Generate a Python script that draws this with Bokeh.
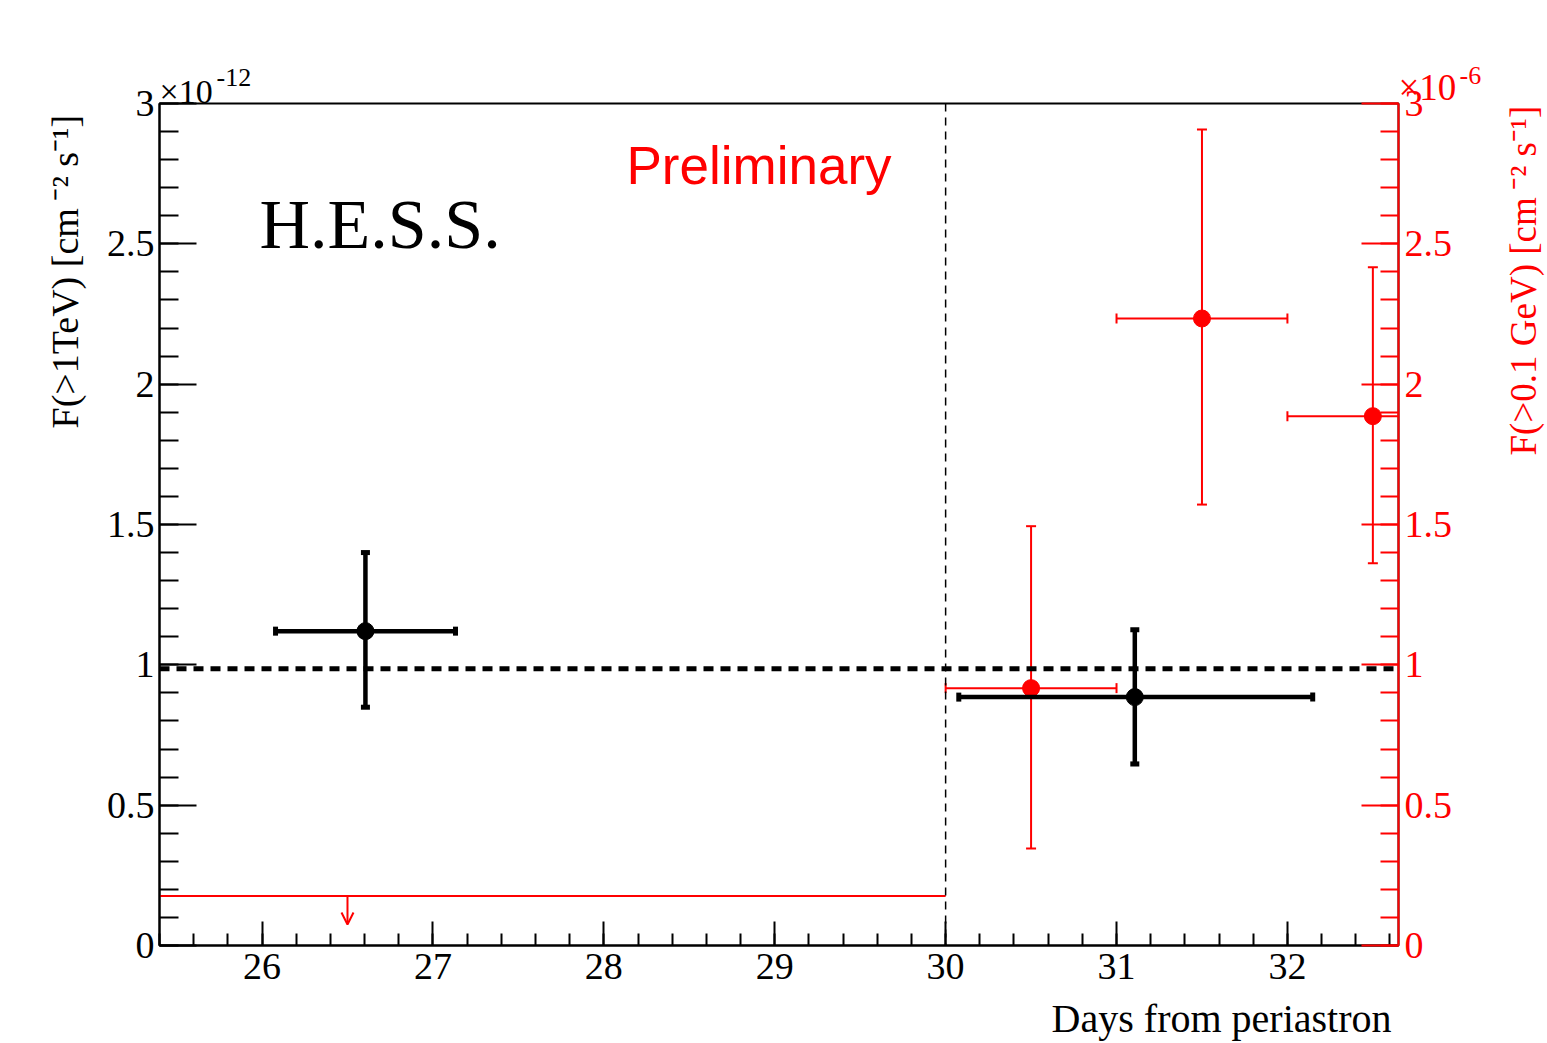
import math

from bokeh.embed import file_html
from bokeh.models import (Arrow, CustomJSTickFormatter, Label, LinearAxis,
                          OpenHead, Range1d, SingleIntervalTicker, Span)
from bokeh.plotting import figure
from bokeh.resources import INLINE

# ---- data -----------------------------------------------------------------
# H.E.S.S. integral flux above 1 TeV (units of 1e-12 cm^-2 s^-1)
hess_day = [26.605, 31.107]
hess_day_lo = [26.079, 30.077]
hess_day_hi = [27.132, 32.148]
hess_flux = [1.120, 0.885]
hess_flux_lo = [0.849, 0.647]
hess_flux_hi = [1.400, 1.125]
hess_mean_flux = 0.986

# Fermi-LAT integral flux above 0.1 GeV (units of 1e-6 cm^-2 s^-1)
lat_day = [30.5, 31.5, 32.5]
lat_day_lo = [30.0, 31.0, 32.0]
lat_day_hi = [31.0, 32.0, 33.0]
lat_flux = [0.917, 2.234, 1.886]
lat_flux_lo = [0.346, 1.571, 1.362]
lat_flux_hi = [1.494, 2.907, 2.417]

# Fermi-LAT upper limit over the first bin
ul_day_lo = [23.0]
ul_day_hi = [30.0]
ul_day = [26.5]
ul_flux = [0.176]
ul_arrow_tip = [0.075]

boundary_day = 30.0

# ---- layout constants ------------------------------------------------------
W, H = 1547, 1043
FRAME_L, FRAME_R, FRAME_T, FRAME_B = 159, 1398, 103, 945
SERIF = "Liberation Serif"
SANS = "Liberation Sans"
RED = "#ff0000"

p = figure(
    width=W, height=H,
    x_range=Range1d(25.4, 32.65), y_range=Range1d(0, 3),
    x_axis_type=None, y_axis_type=None,
    output_backend="svg", toolbar_location=None,
    min_border_left=FRAME_L, min_border_right=W - FRAME_R,
    min_border_top=FRAME_T, min_border_bottom=H - FRAME_B,
)
p.extra_y_ranges = {"lat": Range1d(0, 3)}
p.outline_line_color = "black"
p.outline_line_width = 2
p.background_fill_color = "white"
p.border_fill_color = "white"

plain = CustomJSTickFormatter(code="return String(Math.round(tick * 100) / 100)")


def style_axis(ax, color, major_in, minor_in, standoff):
    ax.axis_line_color = color
    ax.axis_line_width = 2
    ax.major_tick_line_color = color
    ax.minor_tick_line_color = color
    ax.major_tick_line_width = 2
    ax.minor_tick_line_width = 2
    ax.major_tick_in = major_in
    ax.major_tick_out = 0
    ax.minor_tick_in = minor_in
    ax.minor_tick_out = 0
    ax.major_label_text_color = color
    ax.major_label_text_font = SERIF
    ax.major_label_text_font_size = "38px"
    ax.major_label_standoff = standoff


xaxis = LinearAxis(ticker=SingleIntervalTicker(interval=1, num_minor_ticks=5),
                   formatter=plain)
style_axis(xaxis, "black", 24, 12, 8)
p.add_layout(xaxis, "below")

yaxis = LinearAxis(ticker=SingleIntervalTicker(interval=0.5, num_minor_ticks=5),
                   formatter=plain)
style_axis(yaxis, "black", 37, 19, 5)
p.add_layout(yaxis, "left")

raxis = LinearAxis(y_range_name="lat",
                   ticker=SingleIntervalTicker(interval=0.5, num_minor_ticks=5),
                   formatter=plain)
style_axis(raxis, RED, 37, 18, 6)
p.add_layout(raxis, "right")

# ---- reference lines ---------------------------------------------------------
p.add_layout(Span(location=boundary_day, dimension="height", line_color="black",
                  line_width=1.5, line_dash="8 6"))
p.add_layout(Span(location=hess_mean_flux, dimension="width", line_color="black",
                  line_width=5, line_dash="10 7"))

# ---- Fermi-LAT points --------------------------------------------------------
p.segment(x0=ul_day_lo, y0=ul_flux, x1=ul_day_hi, y1=ul_flux,
          line_color=RED, line_width=2, y_range_name="lat")
p.add_layout(Arrow(x_start=ul_day[0], y_start=ul_flux[0],
                   x_end=ul_day[0], y_end=ul_arrow_tip[0],
                   line_color=RED, line_width=2, y_range_name="lat",
                   end=OpenHead(size=12, line_color=RED, line_width=2)))

p.segment(x0=lat_day_lo, y0=lat_flux, x1=lat_day_hi, y1=lat_flux,
          line_color=RED, line_width=2, y_range_name="lat")
p.segment(x0=lat_day, y0=lat_flux_lo, x1=lat_day, y1=lat_flux_hi,
          line_color=RED, line_width=2, y_range_name="lat")
p.scatter(x=lat_day_lo + lat_day_hi, y=lat_flux + lat_flux, marker="dash",
          angle=math.pi / 2, size=10, line_color=RED, line_width=2,
          y_range_name="lat")
p.scatter(x=lat_day + lat_day, y=lat_flux_lo + lat_flux_hi, marker="dash",
          size=10, line_color=RED, line_width=2, y_range_name="lat")
p.scatter(x=lat_day, y=lat_flux, marker="circle", size=17,
          fill_color=RED, line_color=RED, y_range_name="lat")

# ---- H.E.S.S. points ---------------------------------------------------------
p.segment(x0=hess_day_lo, y0=hess_flux, x1=hess_day_hi, y1=hess_flux,
          line_color="black", line_width=4.5)
p.segment(x0=hess_day, y0=hess_flux_lo, x1=hess_day, y1=hess_flux_hi,
          line_color="black", line_width=4.5)
p.scatter(x=hess_day_lo + hess_day_hi, y=hess_flux + hess_flux, marker="dash",
          angle=math.pi / 2, size=9, line_color="black", line_width=5)
p.scatter(x=hess_day + hess_day, y=hess_flux_lo + hess_flux_hi, marker="dash",
          size=9, line_color="black", line_width=5)
p.scatter(x=hess_day, y=hess_flux, marker="circle", size=17,
          fill_color="black", line_color="black")


# ---- texts -------------------------------------------------------------------
# Positions are page pixels (from the top-left corner) of the text baseline;
# the anchor is the bottom of the text box, one font descent below it.
DESCENT = 0.216


def label(x, y, text, size, color="black", font=SERIF, align="left",
          angle=0.0, side=None):
    d = DESCENT * size
    if angle:
        ax, ay = x + d, y          # rotated: text box bottom lies to the right
    else:
        ax, ay = x, y + d
    if side is None:
        lab = Label(x=ax - FRAME_L, y=FRAME_B - ay,
                    x_units="screen", y_units="screen")
    else:
        lab = Label(x=ax, y=ay, x_units="canvas", y_units="canvas")
    lab.update(text=text, text_font=font, text_font_size=f"{size}px",
               text_color=color, text_align=align, text_baseline="bottom",
               angle=angle)
    if side is None:
        p.add_layout(lab)
    else:
        p.add_layout(lab, side)


# inside the frame
label(259, 247, "H.E.S.S.", 70)
label(626, 183, "Preliminary", 53, color=RED, font=SANS)

# outside the frame, in the border panels
label(1391, 1032, "Days from periastron", 40, align="right", side="below")

label(159, 102, "\u00d710", 34, side="above")
label(216, 80, "-12", 26, side="left")
label(1398, 100, "\u00d710", 37, color=RED, side="above")
label(1459, 78, "-6", 26, color=RED, side="right")

up = math.pi / 2
label(77, 428, "F(>1TeV) [cm\u2009\u207b\u00b2 s\u207b\u00b9]", 38, angle=up,
      side="left")
label(1536, 455, "F(>0.1 GeV) [cm\u2009\u207b\u00b2 s\u207b\u00b9]", 37,
      color=RED, angle=up, side="right")

open("out.html", "w").write(file_html(p, INLINE))
